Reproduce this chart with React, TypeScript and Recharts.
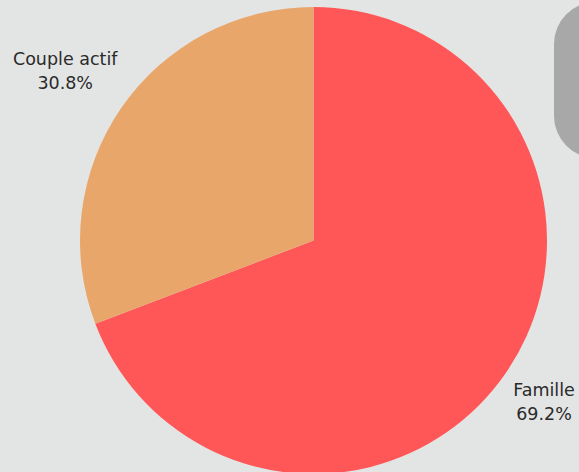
import React from "react";
import { PieChart, Pie, Cell } from "recharts";

const categories = ["Famille", "Couple actif"];
const values = [69.2, 30.8];
const colors = ["#ff5757", "#e9a66b"];

const data = categories.map((name, i) => ({ name, value: values[i] }));

const W = 579;
const H = 472;
const RAD = Math.PI / 180;

const renderLabel = (props: any) => {
  const { cx, cy, midAngle, outerRadius, name, value } = props;
  const r = outerRadius + 68;
  let x = cx + r * Math.cos(-midAngle * RAD);
  let y = cy + r * Math.sin(-midAngle * RAD);
  x = Math.min(Math.max(x, 65), W - 35);
  y = Math.min(y, H - 72);
  return (
    <text
      x={x}
      y={y}
      textAnchor="middle"
      fill="#2a2a2a"
      fontSize={17.5}
      fontFamily="'DejaVu Sans', sans-serif"
    >
      <tspan x={x} dy={-4}>{name}</tspan>
      <tspan x={x} dy={24}>{`${Number(value).toFixed(1)}%`}</tspan>
    </text>
  );
};

export default function App() {
  return (
    <div
      style={{
        position: "absolute",
        left: 0,
        top: 0,
        width: W,
        height: H,
        background: "#e3e5e4",
        overflow: "hidden",
      }}
    >
      <svg
        width={W}
        height={H}
        style={{ position: "absolute", left: 0, top: 0 }}
      >
        <rect x={554} y={2} width={120} height={156} rx={42} fill="#a8a8a8" />
      </svg>
      <div style={{ position: "absolute", left: 0, top: 0 }}>
        <PieChart width={W} height={H} margin={{ top: 0, right: 0, bottom: 0, left: 0 }}>
          <Pie
            data={data}
            dataKey="value"
            nameKey="name"
            cx={313.5}
            cy={240.5}
            outerRadius={233.5}
            startAngle={90}
            endAngle={-270}
            stroke="none"
            isAnimationActive={false}
            labelLine={false}
            label={renderLabel}
          >
            {data.map((d, i) => (
              <Cell key={d.name} fill={colors[i]} />
            ))}
          </Pie>
        </PieChart>
      </div>
    </div>
  );
}
